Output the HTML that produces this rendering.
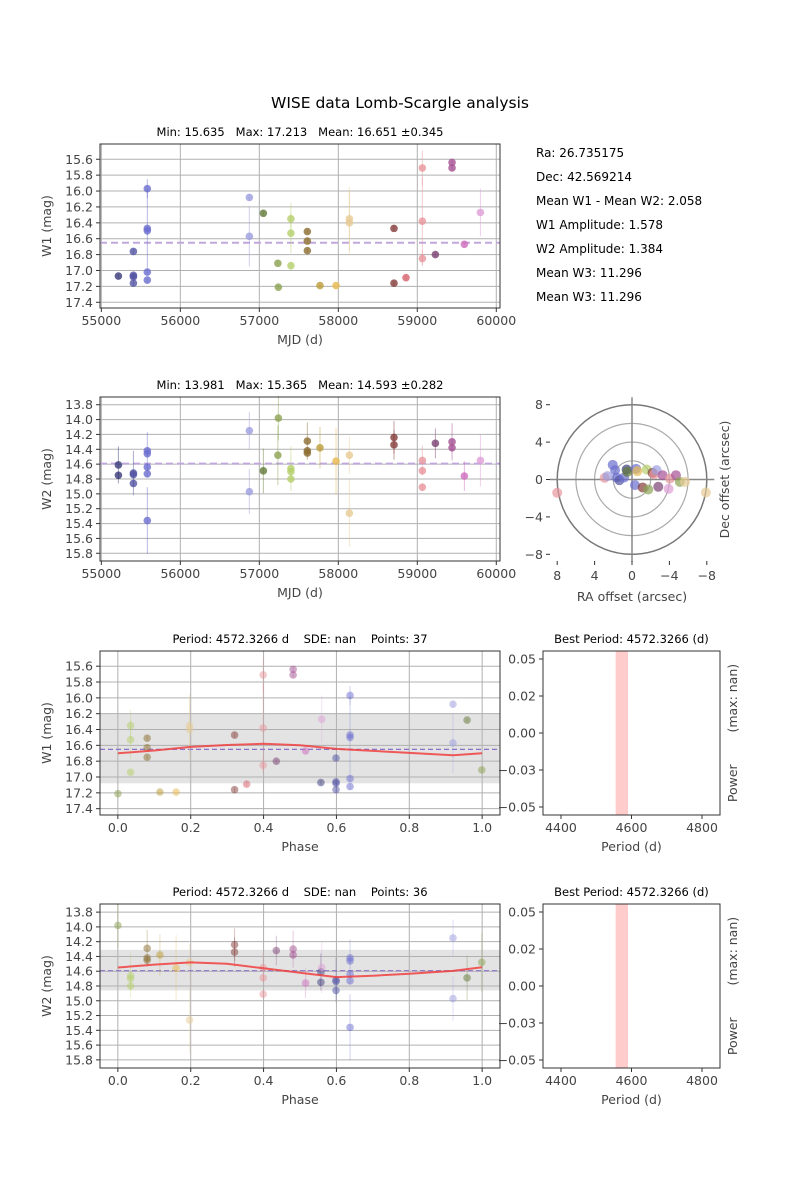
<!DOCTYPE html>
<html><head><meta charset="utf-8"><style>
body{margin:0;background:#fff}
svg{display:block;font-family:"DejaVu Sans","Liberation Sans",sans-serif}
svg text{white-space:pre}
</style></head><body>
<svg id="fig" width="800" height="1200" viewBox="0 0 800 1200" xmlns="http://www.w3.org/2000/svg">
<rect width="800" height="1200" fill="#fff"/>
<text x="400" y="108" font-size="15.5" text-anchor="middle" fill="#000">WISE data Lomb-Scargle analysis</text>
<g font-size="12" fill="#000">
<text x="536" y="157">Ra: 26.735175</text>
<text x="536" y="181">Dec: 42.569214</text>
<text x="536" y="205">Mean W1 - Mean W2: 2.058</text>
<text x="536" y="229">W1 Amplitude: 1.578</text>
<text x="536" y="253">W2 Amplitude: 1.384</text>
<text x="536" y="277">Mean W3: 11.296</text>
<text x="536" y="301">Mean W3: 11.296</text>
</g>
</svg>
<script>
// ---- data ----
const period = 4572.3266;
const epoch = 57240;
const palette = ["#393b79","#5254a3","#6b6ecf","#9c9ede","#637939","#8ca252","#b5cf6b","#8c6d31","#bd9e39","#e7ba52","#e7cb94","#843c39","#ad494a","#d6616b","#e7969c","#7b4173","#a55194","#ce6dbd","#de9ed6"];
const w1Mjd = [55216,55406,55406,55406,55406,55582,55582,55582,55582,55582,56874,56874,57051,57235,57241,57400,57400,57400,57608,57608,57608,57768,57971,58140,58140,58705,58705,58857,59064,59064,59064,59229,59440,59440,59596,59799];
const w1Mag = [17.07,17.06,17.08,17.16,16.76,15.97,16.47,16.50,17.02,17.12,16.08,16.57,16.28,16.91,17.21,16.35,16.53,16.94,16.51,16.63,16.75,17.19,17.19,16.35,16.40,16.47,17.16,17.09,15.71,16.38,16.85,16.80,15.64,15.71,16.67,16.27];
const w1Err = [0.03,0.03,0.03,0.03,0.03,0.12,0.5,0.05,0.04,0.04,0.04,0.38,0.03,0.03,0.03,0.2,0.25,0.03,0.03,0.03,0.03,0.03,0.03,0.4,0.4,0.03,0.03,0.03,0.22,0.55,0.1,0.03,0.03,0.03,0.03,0.3];
const w1Col = [0,1,1,1,1,2,2,2,2,2,3,3,4,5,5,6,6,6,7,7,7,8,9,10,10,11,11,13,14,14,14,15,16,16,17,18];
const w2Mjd = [55216,55216,55406,55406,55406,55582,55582,55582,55582,55582,56874,56874,57051,57241,57235,57400,57400,57400,57608,57608,57608,57768,57971,58140,58140,58705,58705,59064,59064,59064,59229,59440,59440,59596,59799];
const w2Mag = [14.61,14.75,14.72,14.74,14.86,14.42,14.46,14.64,14.73,15.36,14.15,14.97,14.69,13.98,14.48,14.66,14.70,14.80,14.29,14.42,14.45,14.38,14.56,14.48,15.26,14.24,14.34,14.55,14.69,14.91,14.32,14.30,14.38,14.76,14.55];
const w2Err = [0.25,0.05,0.3,0.05,0.05,0.25,0.05,0.05,0.05,0.45,0.25,0.3,0.3,0.3,0.4,0.3,0.05,0.05,0.25,0.05,0.05,0.28,0.45,0.25,0.45,0.22,0.2,0.2,0.05,0.05,0.2,0.25,0.05,0.2,0.35];
const w2Col = [0,0,1,1,1,2,2,2,2,2,3,3,4,5,5,6,6,6,7,7,7,8,9,10,10,11,11,14,14,14,15,16,16,17,18];
const w1Mean = 16.651, w2Mean = 14.593;
const w1Band = [16.20, 17.08], w2Band = [14.31, 14.86];
const modelPhase = [0,0.1,0.2,0.3,0.4,0.5,0.6,0.7,0.8,0.92,1.0];
const w1Model = [16.70,16.665,16.62,16.595,16.58,16.60,16.645,16.67,16.695,16.725,16.70];
const w2Model = [14.55,14.51,14.48,14.50,14.56,14.62,14.68,14.66,14.635,14.595,14.545];
const mjdTicks = [55000,56000,57000,58000,59000,60000];
const w1Ticks = [15.6,15.8,16.0,16.2,16.4,16.6,16.8,17.0,17.2,17.4];
const w2Ticks = [13.8,14.0,14.2,14.4,14.6,14.8,15.0,15.2,15.4,15.6,15.8];
const phaseTicks = [0,0.2,0.4,0.6,0.8,1.0];
const powerTicks = [0.05,0.025,0,-0.025,-0.05];
const powerTickLabels = ["0.05","0.02","0.00","\u22120.03","\u22120.05"];
const periodTicks = [4400,4600,4800];
const bestBand = [4555,4590];
const raOff = [8.0,2.92,2.63,2.06,1.81,1.64,1.35,0.85,0.57,0.5,-0.43,-0.32,-0.57,-1.57,-1.14,-1.74,-2.2,-2.35,-2.63,-2.81,-3.27,-3.91,-4.06,-4.7,-5.12,-5.66,-7.9];
const decOff = [-1.42,0.18,0.36,1.57,1.0,0.21,-0.07,0.21,1.07,0.82,1.14,-0.6,0.89,1.07,-0.85,-1.07,0.71,0.57,1.0,-0.78,0.46,-1.0,0.1,0.46,-0.25,-0.25,-1.39];
const posCol = [14,14,3,2,2,2,1,2,0,4,2,2,9,6,11,5,11,14,3,15,16,18,14,16,5,10,10];
const polarTicks = [8,4,0,-4,-8];
const polarRings = [2,4,6,8];

// ---- helpers ----
const NS="http://www.w3.org/2000/svg";
const svg=document.getElementById('fig');
function mk(tag,attrs,parent){const e=document.createElementNS(NS,tag);for(const k in attrs)e.setAttribute(k,attrs[k]);(parent||svg).appendChild(e);return e;}
function txt(parent,x,y,s,size,anchor,extra){const t=mk('text',Object.assign({x:x,y:y,'font-size':size,'text-anchor':anchor||'middle',fill:'#444'},extra||{}),parent);t.textContent=s;return t;}

function frame(g,L,T,R,B){
  const r=mk('rect',{x:L,y:T,width:R-L,height:B-T,fill:'none',stroke:'#333','stroke-width':1},g);
  
  
}

function magPanel(o){
  const g=mk('g',{});
  
  
  const {L,T,R,B}=o;
  const sx=v=>L+(v-o.x0)/(o.x1-o.x0)*(R-L);
  const sy=v=>T+(v-o.y0)/(o.y1-o.y0)*(B-T);
  if(o.band){
    const b=mk('rect',{x:L,y:sy(o.band[0]),width:R-L,height:sy(o.band[1])-sy(o.band[0]),fill:'#e3e3e3'},g);
    
    
  }
  o.yt.forEach(v=>{
    const y=sy(v);
    mk('line',{x1:L,x2:R,y1:y,y2:y,stroke:'#b0b0b0','stroke-width':1},g);
    mk('line',{x1:L-4,x2:L,y1:y,y2:y,stroke:'#333'},g);
    const t=txt(g,L-7,y+4.5,v.toFixed(1),12.5,'end');
    
    
  });
  o.xt.forEach(v=>{
    const x=sx(v);
    mk('line',{x1:x,x2:x,y1:T,y2:B,stroke:'#b0b0b0','stroke-width':1},g);
    mk('line',{x1:x,x2:x,y1:B,y2:B+4,stroke:'#333'},g);
    const t=txt(g,x,B+17,o.xfmt(v),12.5,'middle');
    
    
  });
  const mean=mk('line',{x1:L,x2:R,y1:sy(o.mean),y2:sy(o.mean),stroke:o.meanCol,'stroke-width':o.meanW,'stroke-dasharray':o.meanDash},g);
  
  
  for(let i=0;i<o.xs.length;i++){
    const x=sx(o.xs[i]),y=sy(o.mags[i]),c=palette[o.cols[i]];
    const eb=mk('line',{x1:x,x2:x,y1:sy(o.mags[i]-o.errs[i]),y2:sy(o.mags[i]+o.errs[i]),stroke:c,'stroke-width':1,opacity:o.alpha*0.6},g);
    
    
    const p=mk('circle',{cx:x,cy:y,r:3.8,fill:c,opacity:o.alpha},g);
    
    
  }
  if(o.model){
    const d=o.modelX.map((v,i)=>(i?'L':'M')+sx(v).toFixed(1)+','+sy(o.model[i]).toFixed(1)).join(' ');
    const pl=mk('path',{d:d,fill:'none',stroke:'#f04040','stroke-width':2,opacity:0.85},g);
    
    
  }
  frame(g,L,T,R,B);
  const tt=txt(g,(L+R)/2,T-8,o.title,11.5,'middle',{fill:'#000'});
  
  
  const xl=txt(g,(L+R)/2,B+36,o.xlabel,12.5,'middle');
  
  
  const yl=txt(g,0,0,o.ylabel,12.5,'middle',{transform:`translate(51,${(T+B)/2}) rotate(-90)`});
  
  
}

const phaseOf=m=>(((m-epoch)/period)%1+1)%1;

magPanel({name:'w1-lightcurve',L:100,T:144,R:500,B:308,x0:54983,x1:60047,y0:15.408,y1:17.472,xt:mjdTicks,yt:w1Ticks,xfmt:v=>String(v),
  xs:w1Mjd,mags:w1Mag,errs:w1Err,cols:w1Col,alpha:0.8,mean:w1Mean,meanCol:'#c0a8dc',meanW:2,meanDash:'7,4',
  title:'Min: 15.635   Max: 17.213   Mean: 16.651 \u00b10.345',xlabel:'MJD (d)',ylabel:'W1 (mag)'});
magPanel({name:'w2-lightcurve',L:100,T:397,R:500,B:561,x0:54983,x1:60047,y0:13.696,y1:15.904,xt:mjdTicks,yt:w2Ticks,xfmt:v=>String(v),
  xs:w2Mjd,mags:w2Mag,errs:w2Err,cols:w2Col,alpha:0.8,mean:w2Mean,meanCol:'#c0a8dc',meanW:2,meanDash:'7,4',
  title:'Min: 13.981   Max: 15.365   Mean: 14.593 \u00b10.282',xlabel:'MJD (d)',ylabel:'W2 (mag)'});
magPanel({name:'w1-phase-fold',L:100,T:651,R:500,B:815,x0:-0.049,x1:1.049,y0:15.408,y1:17.48,xt:phaseTicks,yt:w1Ticks,xfmt:v=>v.toFixed(1),
  xs:w1Mjd.map(phaseOf),mags:w1Mag,errs:w1Err,cols:w1Col,alpha:0.5,mean:w1Mean,meanCol:'#8a70c8',meanW:1.2,meanDash:'5,3',band:w1Band,
  model:w1Model,modelX:modelPhase,
  title:'Period: 4572.3266 d    SDE: nan    Points: 37',xlabel:'Phase',ylabel:'W1 (mag)'});
magPanel({name:'w2-phase-fold',L:100,T:904,R:500,B:1068,x0:-0.049,x1:1.049,y0:13.69,y1:15.91,xt:phaseTicks,yt:w2Ticks,xfmt:v=>v.toFixed(1),
  xs:w2Mjd.map(phaseOf),mags:w2Mag,errs:w2Err,cols:w2Col,alpha:0.5,mean:w2Mean,meanCol:'#8a70c8',meanW:1.2,meanDash:'5,3',band:w2Band,
  model:w2Model,modelX:modelPhase,
  title:'Period: 4572.3266 d    SDE: nan    Points: 36',xlabel:'Phase',ylabel:'W2 (mag)'});

function powerPanel(name,T,B){
  const g=mk('g',{});
  
  
  const L=543,R=720,x0=4349,x1=4851,y0=0.0554,y1=-0.0554;
  const sx=v=>L+(v-x0)/(x1-x0)*(R-L);
  const sy=v=>T+(v-y0)/(y1-y0)*(B-T);
  const band=mk('rect',{x:sx(bestBand[0]),y:T,width:sx(bestBand[1])-sx(bestBand[0]),height:B-T,fill:'#ffcccc'},g);
  
  
  powerTicks.forEach((v,i)=>{
    const y=sy(v);
    mk('line',{x1:L-4,x2:L,y1:y,y2:y,stroke:'#333'},g);
    const t=txt(g,L-7,y+4.5,powerTickLabels[i],12.5,'end');
    
    
  });
  periodTicks.forEach(v=>{
    const x=sx(v);
    mk('line',{x1:x,x2:x,y1:B,y2:B+4,stroke:'#333'},g);
    const t=txt(g,x,B+17,String(v),12.5,'middle');
    
    
  });
  frame(g,L,T,R,B);
  const tt=txt(g,(L+R)/2,T-8,'Best Period: 4572.3266 (d)',11.5,'middle',{fill:'#000'});
  
  
  const xl=txt(g,(L+R)/2,B+36,'Period (d)',12.5,'middle');
  
  
  const yl=txt(g,0,0,'Power        (max: nan)',12.5,'middle',{transform:`translate(737,${(T+B)/2}) rotate(-90)`});
  
  
}
powerPanel('w1-periodogram',651,815);
powerPanel('w2-periodogram',904,1068);

(function(){
  const g=mk('g',{});
  
  
  const cx=632,cy=479.5,k=9.35;
  const sx=v=>cx-v*k, sy=v=>cy-v*k;
  polarRings.forEach(r=>{
    const c=mk('circle',{cx:cx,cy:cy,r:r*k,fill:'none',stroke:r===8?'#777':'#aaa','stroke-width':r===8?1.5:1.2},g);
    
    
  });
  mk('line',{x1:sx(8.8),x2:sx(-8.8),y1:cy,y2:cy,stroke:'#888','stroke-width':1.5},g);
  mk('line',{x1:cx,x2:cx,y1:sy(8.8),y2:sy(-8.8),stroke:'#888','stroke-width':1.5},g);
  for(let i=0;i<raOff.length;i++){
    const p=mk('circle',{cx:sx(raOff[i]),cy:sy(decOff[i]),r:5,fill:palette[posCol[i]],opacity:0.7},g);
    
    
  }
  polarTicks.forEach(v=>{
    const y=sy(v);
    mk('line',{x1:546,x2:550,y1:y,y2:y,stroke:'#333'},g);
    const t=txt(g,543,y+4.5,String(v).replace('-','\u2212'),12.5,'end');
    
    
    const x=sx(v);
    mk('line',{x1:x,x2:x,y1:561,y2:565,stroke:'#333'},g);
    const t2=txt(g,x,580,String(v).replace('-','\u2212'),12.5,'middle');
    
    
  });
  const xl=txt(g,632,601,'RA offset (arcsec)',12.5,'middle');
  
  
  const yl=txt(g,0,0,'Dec offset (arcsec)',12.5,'middle',{transform:`translate(729,${cy}) rotate(-90)`});
  
  
})();
</script>
</body></html>
